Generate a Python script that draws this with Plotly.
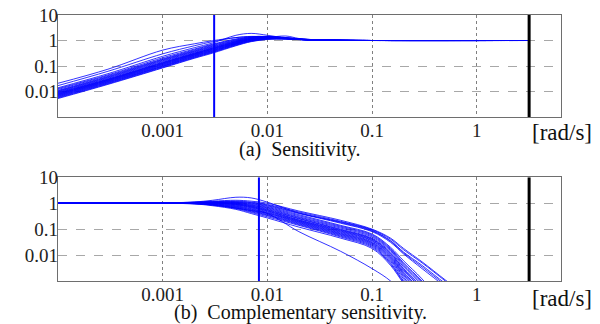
import math
import plotly.graph_objects as go
from plotly.subplots import make_subplots

# ---------------- data ----------------
freq_S = [1e-4, 3e-4, 1e-3, 2e-3, 3e-3, 5e-3, 7e-3, 0.01, 0.015, 0.02, 0.03, 0.05, 0.1, 3.16]
S_curves = [
    [0.021, 0.075, 0.42, 0.74, 0.98, 1.30, 1.40, 1.35, 1.18, 1.08, 1.03, 1.01, 1.0, 1.0],
    [0.017, 0.062, 0.30, 0.62, 0.90, 1.30, 1.45, 1.40, 1.20, 1.10, 1.04, 1.01, 1.0, 1.0],
    [0.014, 0.050, 0.24, 0.52, 0.80, 1.60, 1.90, 1.60, 1.25, 1.10, 1.04, 1.01, 1.0, 1.0],
    [0.013, 0.045, 0.21, 0.46, 0.72, 1.15, 1.40, 1.45, 1.30, 1.15, 1.05, 1.01, 1.0, 1.0],
    [0.012, 0.042, 0.19, 0.43, 0.68, 1.10, 1.35, 1.40, 1.25, 1.12, 1.04, 1.01, 1.0, 1.0],
    [0.011, 0.039, 0.18, 0.40, 0.64, 1.05, 1.32, 1.38, 1.22, 1.10, 1.04, 1.01, 1.0, 1.0],
    [0.0105, 0.037, 0.17, 0.38, 0.60, 1.00, 1.30, 1.40, 1.30, 1.18, 1.06, 1.02, 1.0, 1.0],
    [0.010, 0.035, 0.16, 0.36, 0.57, 0.97, 1.25, 1.33, 1.20, 1.10, 1.03, 1.01, 1.0, 1.0],
    [0.0095, 0.033, 0.15, 0.34, 0.54, 0.93, 1.22, 1.35, 1.28, 1.16, 1.06, 1.02, 1.0, 1.0],
    [0.009, 0.031, 0.14, 0.32, 0.51, 0.90, 1.20, 1.30, 1.20, 1.10, 1.04, 1.01, 1.0, 1.0],
    [0.0087, 0.030, 0.135, 0.31, 0.50, 0.88, 1.18, 1.32, 1.25, 1.14, 1.05, 1.02, 1.0, 1.0],
    [0.0083, 0.029, 0.13, 0.30, 0.48, 0.85, 1.15, 1.28, 1.20, 1.10, 1.04, 1.01, 1.0, 1.0],
    [0.008, 0.028, 0.125, 0.29, 0.46, 0.83, 1.12, 1.30, 1.50, 1.20, 1.06, 1.02, 1.0, 1.0],
    [0.0077, 0.027, 0.12, 0.28, 0.45, 0.80, 1.10, 1.25, 1.20, 1.10, 1.04, 1.01, 1.0, 1.0],
    [0.0074, 0.026, 0.115, 0.27, 0.43, 0.78, 1.08, 1.25, 1.22, 1.12, 1.05, 1.01, 1.0, 1.0],
    [0.0071, 0.025, 0.11, 0.26, 0.41, 0.76, 1.05, 1.22, 1.18, 1.10, 1.04, 1.01, 1.0, 1.0],
    [0.0068, 0.024, 0.105, 0.25, 0.40, 0.74, 1.03, 1.20, 1.20, 1.12, 1.05, 1.02, 1.0, 1.0],
    [0.0065, 0.023, 0.10, 0.24, 0.38, 0.72, 1.00, 1.18, 1.16, 1.10, 1.04, 1.01, 1.0, 1.0],
    [0.0062, 0.022, 0.097, 0.23, 0.37, 0.70, 0.98, 1.17, 1.18, 1.12, 1.05, 1.02, 1.0, 1.0],
    [0.0059, 0.021, 0.093, 0.22, 0.35, 0.67, 0.95, 1.15, 1.15, 1.10, 1.04, 1.01, 1.0, 1.0],
    [0.0056, 0.020, 0.088, 0.21, 0.34, 0.65, 0.93, 1.13, 1.16, 1.10, 1.05, 1.02, 1.0, 1.0],
    [0.0053, 0.019, 0.084, 0.20, 0.32, 0.62, 0.90, 1.10, 1.14, 1.10, 1.05, 1.02, 1.0, 1.0],
]

freq_T = [1e-4, 1e-3, 2e-3, 3e-3, 5e-3, 7e-3, 0.01, 0.02, 0.05, 0.1, 0.15, 0.2, 0.3, 0.5, 0.7, 1.0]
T_curves = [
    [1, 1.03, 1.10, 1.20, 1.30, 1.20, 1.00, 0.50, 0.22, 0.100, 0.045, 0.018, 0.0055, 0.0011, 0.0004, 0.00012],
    [1, 1.02, 1.08, 1.15, 1.20, 1.10, 0.90, 0.46, 0.20, 0.095, 0.041, 0.016, 0.0050, 0.0010, 0.00035, 0.0001],
    [1, 1.03, 1.12, 1.30, 1.70, 1.60, 1.10, 0.42, 0.19, 0.090, 0.036, 0.013, 0.0040, 0.0008, 0.0003, 0.0001],
    [1, 1.02, 1.07, 1.12, 1.15, 1.05, 0.85, 0.42, 0.18, 0.085, 0.034, 0.012, 0.0035, 0.0007, 0.00025],
    [1, 1.02, 1.06, 1.10, 1.10, 1.00, 0.80, 0.40, 0.17, 0.080, 0.031, 0.011, 0.0030, 0.0006, 0.0002],
    [1, 1.02, 1.06, 1.10, 1.08, 0.95, 0.75, 0.36, 0.14, 0.065, 0.0200, 0.0060, 0.0012, 0.0001],
    [1, 1.02, 1.05, 1.08, 1.05, 0.90, 0.70, 0.33, 0.13, 0.060, 0.0180, 0.0050, 0.0010, 0.0001],
    [1, 1.02, 1.05, 1.06, 1.00, 0.85, 0.66, 0.30, 0.12, 0.055, 0.0165, 0.0045, 0.0009, 0.0001],
    [1, 1.02, 1.04, 1.05, 0.98, 0.82, 0.62, 0.28, 0.11, 0.050, 0.0150, 0.0040, 0.0008, 0.0001],
    [1, 1.01, 1.04, 1.04, 0.95, 0.78, 0.58, 0.26, 0.10, 0.045, 0.0133, 0.0035, 0.0007, 0.0001],
    [1, 1.01, 1.03, 1.03, 0.92, 0.75, 0.55, 0.25, 0.095, 0.042, 0.0120, 0.0030, 0.0006],
    [1, 1.01, 1.03, 1.02, 0.90, 0.72, 0.52, 0.23, 0.090, 0.040, 0.0112, 0.0028, 0.0005],
    [1, 1.01, 1.03, 1.00, 0.87, 0.69, 0.50, 0.22, 0.085, 0.037, 0.0102, 0.0025, 0.0005],
    [1, 1.01, 1.02, 0.98, 0.84, 0.66, 0.47, 0.21, 0.080, 0.035, 0.0093, 0.0022, 0.0004],
    [1, 1.01, 1.02, 0.96, 0.80, 0.62, 0.44, 0.20, 0.075, 0.032, 0.0085, 0.0020, 0.0004],
    [1, 1.01, 1.01, 0.94, 0.77, 0.59, 0.42, 0.19, 0.070, 0.030, 0.0078, 0.0018, 0.0003],
    [1, 1.00, 1.00, 0.92, 0.74, 0.56, 0.40, 0.18, 0.066, 0.028, 0.0071, 0.0016, 0.0003],
    [1, 1.00, 0.99, 0.90, 0.71, 0.53, 0.37, 0.17, 0.062, 0.026, 0.0064, 0.0014, 0.0002],
    [1, 1.00, 0.98, 0.88, 0.68, 0.50, 0.35, 0.16, 0.058, 0.024, 0.0057, 0.0012, 0.0002],
    [1, 1.00, 0.97, 0.86, 0.65, 0.47, 0.33, 0.15, 0.054, 0.022, 0.0050, 0.0010, 0.00015],
    [1, 1.00, 0.96, 0.84, 0.62, 0.44, 0.30, 0.14, 0.050, 0.020, 0.0045, 0.0009, 0.00012],
    [1, 0.99, 0.94, 0.80, 0.58, 0.40, 0.27, 0.12, 0.045, 0.018, 0.0040, 0.0008, 0.0001],
    [1, 0.99, 0.95, 0.85, 0.65, 0.52, 0.40, 0.08, 0.014, 0.003, 0.0010, 0.0003, 0.00005],
]

bandwidth_S = 0.0031     # blue vertical marker, sensitivity
bandwidth_T = 0.0083     # blue vertical marker, complementary sensitivity
nyquist = 3.16           # black vertical marker

x_tickvals = [0.001, 0.01, 0.1, 1]
x_ticktext = ["0.001", "0.01", "0.1", "1"]
y_tickvals = [0.01, 0.1, 1, 10]
y_ticktext = ["0.01", "0.1", "1", "10"]
x_limits = [1e-4, 6.37]
y_limits = [1e-3, 10]

captions = ["(a)  Sensitivity.", "(b)  Complementary sensitivity."]
unit_label = "[rad/s]"

# ---------------- figure ----------------
# the page body has an 8 px margin, so layout is placed 8 px up/left
OFF = 8
W, H = 600 - OFF, 324 - OFF
ML, MT = 58 - OFF, 15 - OFF
MR = W - (561 - OFF)
MB = H - (281 - OFF)
fig = make_subplots(rows=2, cols=1, vertical_spacing=0.2)

BLUE = "#0000ff"
for c in S_curves:
    fig.add_trace(go.Scatter(x=freq_S[:len(c)], y=c, mode="lines",
                             line=dict(color=BLUE, width=0.8, shape="spline", smoothing=1.0),
                             showlegend=False, hoverinfo="skip"), row=1, col=1)
for c in T_curves:
    fig.add_trace(go.Scatter(x=freq_T[:len(c)], y=c, mode="lines",
                             line=dict(color=BLUE, width=0.8, shape="spline", smoothing=1.0),
                             showlegend=False, hoverinfo="skip"), row=2, col=1)

for row, bw in [(1, bandwidth_S), (2, bandwidth_T)]:
    fig.add_trace(go.Scatter(x=[bw, bw], y=y_limits, mode="lines", line=dict(color=BLUE, width=2),
                             showlegend=False, hoverinfo="skip"), row=row, col=1)
    fig.add_trace(go.Scatter(x=[nyquist, nyquist], y=y_limits, mode="lines", line=dict(color="black", width=3),
                             showlegend=False, hoverinfo="skip"), row=row, col=1)

SERIF = "Liberation Serif, Times New Roman, serif"
axis_common = dict(showline=True, mirror=True, linecolor="#6e6e6e", linewidth=1.3, ticks="",
                   zeroline=False, automargin=False, ticklabeloverflow="allow",
                   tickfont=dict(family=SERIF, size=19, color="#222"))
for row in (1, 2):
    fig.update_xaxes(type="log", range=[math.log10(x_limits[0]), math.log10(x_limits[1])],
                     tickvals=x_tickvals, ticktext=x_ticktext, ticklabelstandoff=-4,
                     showgrid=True, gridcolor="#808080", griddash="dot", gridwidth=1,
                     row=row, col=1, **axis_common)
    fig.update_yaxes(type="log", range=[math.log10(y_limits[0]), math.log10(y_limits[1])],
                     tickvals=y_tickvals, ticktext=y_ticktext, ticklabelstandoff=-5,
                     showgrid=True, gridcolor="#a8a8a8", griddash="dash", gridwidth=1,
                     row=row, col=1, **axis_common)

plot_h = H - MT - MB
plot_w = W - ML - MR

def py_to_paper(py):
    return 1 - (py - OFF - MT) / plot_h

def px_to_paper(px):
    return (px - OFF - ML) / plot_w

top_dom = [py_to_paper(117), 1.0]
bot_dom = [0.0, py_to_paper(177.3)]
fig.update_layout(yaxis=dict(domain=top_dom), yaxis2=dict(domain=bot_dom))

for cap, (cx, cy) in zip(captions, [(299, 149), (300, 312)]):
    fig.add_annotation(text=cap, x=px_to_paper(cx), y=py_to_paper(cy), xref="paper", yref="paper",
                       showarrow=False, xanchor="center", yanchor="middle",
                       font=dict(family=SERIF, size=20, color="#111"))
for ry in (133, 298):
    fig.add_annotation(text=unit_label, x=px_to_paper(594), y=py_to_paper(ry), xref="paper", yref="paper",
                       showarrow=False, xanchor="right", yanchor="middle",
                       font=dict(family=SERIF, size=23, color="#111"))

fig.update_layout(width=W, height=H, margin=dict(l=ML, r=MR, t=MT, b=MB, autoexpand=False),
                  font=dict(family=SERIF), paper_bgcolor="white", plot_bgcolor="white", showlegend=False)
fig.write_html("out.html")
